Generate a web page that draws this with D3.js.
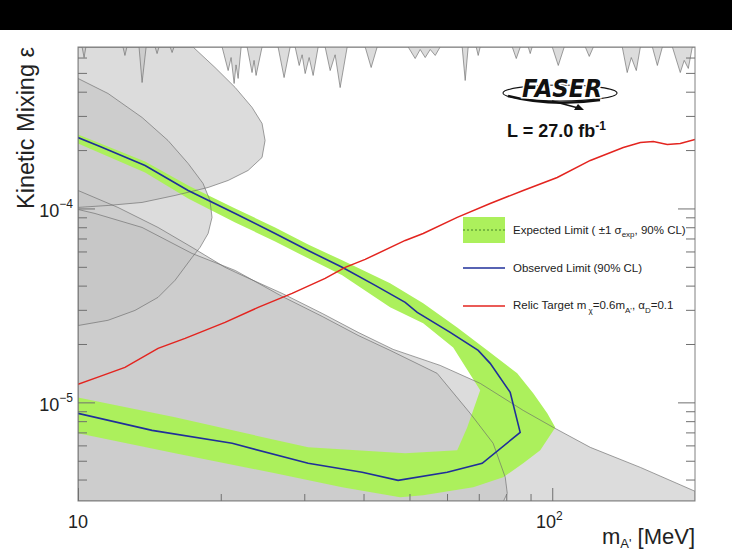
<!DOCTYPE html>
<html>
<head>
<meta charset="utf-8">
<script src="https://cdn.jsdelivr.net/npm/d3@7"></script>
<style>
  body { margin: 0; background: #fff; }
  svg { display: block; font-family: "Liberation Sans", Arial, sans-serif; }
</style>
</head>
<body>
<svg id="chart" width="732" height="552"></svg>
<script>
// axis ranges
const massRange = [10, 200];
const epsRange = [3.1e-6, 6.8e-4];

// tick values
const xMajorTicks = [10, 100];
const xMajorExp = ["", "2"];
const xMinorTicks = [20, 30, 40, 50, 60, 70, 80, 90];
const yMajorTicks = [1e-5, 1e-4];
const yMajorExp = ["\u22125", "\u22124"];
const yMinorTicks = [4e-6, 5e-6, 6e-6, 7e-6, 8e-6, 9e-6, 2e-5, 3e-5, 4e-5, 5e-5, 6e-5, 7e-5, 8e-5, 9e-5, 2e-4, 3e-4, 4e-4, 5e-4, 6e-4];

// existing constraints (grey), edges
const spikeMass = [10, 10.2, 10.3, 10.39, 12.44, 12.56, 12.68, 13.45, 13.65, 13.92, 14.54, 14.68, 14.82, 15.64, 15.79, 15.94,
  20.13, 20.73, 21.03, 21.34, 21.54, 21.76, 22.08, 22.73, 23.28, 23.51, 23.74, 24.44, 26.42, 27.2, 28.01,
  28.7, 29.27, 29.69, 30.13, 30.72, 31.32, 32.09, 33.2, 34.02, 34.85, 35.71, 36.95, 40.32, 41.51, 42.74,
  49.69, 51.4, 52.67, 53.97, 55.3, 56.66, 58.03, 64.58, 65.53, 66.49, 69.13, 69.8, 70.48, 82.35, 83.98, 85.63,
  89.0, 89.86, 90.7, 100, 102.97, 106, 117.4, 119.7, 122.1, 140.5, 143.9, 146.8, 150.4, 153.4,
  162.6, 166.6, 170.7, 179.2, 186.2, 189.8, 193.6, 197.4, 200];
const spikeEps = [68e-5, 68e-5, 60e-5, 68e-5, 68e-5, 61.5e-5, 68e-5, 68e-5, 44.6e-5, 68e-5, 68e-5, 62.9e-5, 68e-5, 68e-5, 63.7e-5, 68e-5,
  68e-5, 51.4e-5, 60e-5, 44.1e-5, 55e-5, 46.8e-5, 68e-5, 68e-5, 50.2e-5, 58e-5, 48.5e-5, 68e-5, 68e-5, 47.3e-5, 68e-5,
  68e-5, 54.6e-5, 62e-5, 49.6e-5, 60e-5, 48.5e-5, 68e-5, 68e-5, 51.4e-5, 62e-5, 42.0e-5, 68e-5, 68e-5, 53.3e-5, 68e-5,
  68e-5, 59.3e-5, 66e-5, 60e-5, 66e-5, 61.5e-5, 68e-5, 68e-5, 45.7e-5, 68e-5, 68e-5, 61.5e-5, 68e-5, 68e-5, 59.3e-5, 68e-5,
  68e-5, 62.9e-5, 68e-5, 68e-5, 54.6e-5, 68e-5, 68e-5, 60.8e-5, 68e-5, 68e-5, 50.2e-5, 60e-5, 51.4e-5, 68e-5,
  68e-5, 54.6e-5, 68e-5, 68e-5, 50.2e-5, 58e-5, 52.7e-5, 68e-5, 68e-5];

const lobeAMass = [10, 17.48, 19.45, 21.45, 23.28, 24.44, 24.8, 24.44, 22.84, 20.73, 18.81, 16.02, 13.65, 11.57, 10];
const lobeAEps = [68e-5, 68e-5, 53.3e-5, 42.05e-5, 33.2e-5, 27.43e-5, 22.41e-5, 18.32e-5, 15.7e-5, 13.94e-5, 12.83e-5, 11.67e-5, 10.74e-5, 10.36e-5, 10.12e-5];

const lobeBMass = [10, 11.57, 13.65, 15.48, 17.07, 18.35, 18.98, 19.17, 18.81, 18.09, 17.4, 16.02, 14.75, 13.19, 11.57, 10];
const lobeBEps = [46.8e-5, 39.15e-5, 29.45e-5, 22.41e-5, 17.06e-5, 13.46e-5, 11.0e-5, 8.99e-5, 7.43e-5, 6.3e-5, 5.59e-5, 4.26e-5, 3.48e-5, 2.98e-5, 2.65e-5, 2.49e-5];

const bandDMass = [10, 12.14, 14.75, 17.4, 20.42, 22.18, 26.94, 32.72, 38.96, 46.19, 58.03, 70.48, 86.85, 100.5, 120.3, 153.4, 200];
const bandDEps = [12.38e-5, 10.12e-5, 7.98e-5, 6.3e-5, 4.97e-5, 4.52e-5, 3.647e-5, 2.876e-5, 2.296e-5, 1.876e-5, 1.551e-5, 1.253e-5, 0.909e-5, 0.743e-5, 0.586e-5, 0.462e-5, 0.348e-5];

const lobeCMass = [10, 10.86, 13.65, 17.4, 21.45, 26.94, 32.72, 38.96, 45.51, 57.19, 67.14, 75.06, 79.6, 80.38, 78.44];
const lobeCEps = [9.88e-5, 9.42e-5, 7.98e-5, 5.86e-5, 4.79e-5, 3.52e-5, 2.776e-5, 2.215e-5, 1.854e-5, 1.411e-5, 0.878e-5, 0.615e-5, 0.411e-5, 0.34e-5, 0.30e-5];

// expected limit band (+-1 sigma), outer edge then inner edge
const expMass = [10, 13.85, 17.07, 21.45, 26.04, 30.57, 36.06, 45.51, 53.44, 63.04, 72.92, 84.35, 91.18, 97.61, 101.5,
  94.34, 86.85, 78.83, 68.13, 53.44, 47.78, 36.06, 26.04, 16.02, 10,
  10, 16.02, 30.57, 48.97, 63.04, 66.16, 70.48, 61.82, 53.44, 45.51, 36.06, 30.57, 26.04, 21.45, 17.07, 13.85, 10];
const expEps = [24.06e-5, 17.47e-5, 13.14e-5, 10.0e-5, 7.98e-5, 6.52e-5, 5.4e-5, 4.11e-5, 3.24e-5, 2.436e-5, 1.854e-5, 1.411e-5, 1.113e-5, 0.878e-5, 0.743e-5,
  0.566e-5, 0.485e-5, 0.411e-5, 0.365e-5, 0.332e-5, 0.324e-5, 0.365e-5, 0.431e-5, 0.546e-5, 0.692e-5,
  1.061e-5, 0.837e-5, 0.586e-5, 0.546e-5, 0.566e-5, 0.743e-5, 1.153e-5, 1.921e-5, 2.555e-5, 3.09e-5, 4.52e-5, 5.53e-5, 6.76e-5, 8.47e-5, 11.26e-5, 15.33e-5, 21.63e-5];

// observed limit
const obsMass = [10, 11.13, 13.85, 17.07, 21.45, 26.04, 30.57, 36.06, 42.33, 48.97, 51.92, 60.93, 69.8, 73.98, 81.53, 85.58,
  71.17, 60.05, 47.32, 39.74, 30.57, 21.14, 14.33, 10];
const obsEps = [23.2e-5, 20.87e-5, 16.66e-5, 12.38e-5, 9.42e-5, 7.43e-5, 6.07e-5, 4.97e-5, 4.01e-5, 3.28e-5, 2.91e-5, 2.296e-5, 1.854e-5, 1.589e-5, 1.126e-5, 0.70e-5,
  0.485e-5, 0.436e-5, 0.396e-5, 0.436e-5, 0.485e-5, 0.615e-5, 0.717e-5, 0.878e-5];

// relic target
const relicMass = [10, 11.13, 12.56, 14.75, 16.82, 20.42, 23.98, 28.28, 33.2, 36.59, 40.32, 48.97, 53.44, 63.04, 73.98, 86.85, 102.45, 120.3, 141.2, 153.4, 163.4, 174.8, 186.2, 200];
const relicEps = [1.238e-5, 1.361e-5, 1.515e-5, 1.898e-5, 2.138e-5, 2.585e-5, 3.09e-5, 3.647e-5, 4.357e-5, 4.97e-5, 5.46e-5, 6.84e-5, 7.43e-5, 8.99e-5, 10.61e-5, 12.38e-5, 14.45e-5, 17.68e-5, 20.63e-5, 21.89e-5, 22.15e-5, 21.38e-5, 21.63e-5, 22.69e-5];

const svg = d3.select("#chart");
const W = 732, H = 552;
const pL = 78, pR = 695, pT = 47, pB = 501;

const x = d3.scaleLog().domain(massRange).range([pL, pR]);
const y = d3.scaleLog().domain(epsRange).range([pB, pT]);

// black strip on top
svg.append("rect").attr("x", 0).attr("y", 0).attr("width", W).attr("height", 30).attr("fill", "#000");

svg.append("defs").append("clipPath").attr("id", "plotclip")
  .append("rect").attr("x", pL).attr("y", pT).attr("width", pR - pL).attr("height", pB - pT);

const plot = svg.append("g").attr("clip-path", "url(#plotclip)");
const line = d3.line().x(d => x(d[0])).y(d => y(d[1]));
const pts = (ms, es) => ms.map((m, i) => [m, es[i]]);

const regions = [
  pts(bandDMass, bandDEps).concat([[massRange[1], epsRange[0]], [massRange[0], epsRange[0]]]),
  pts(lobeCMass, lobeCEps).concat([[massRange[0], epsRange[0]]]),
  pts(lobeBMass, lobeBEps),
  pts(lobeAMass, lobeAEps),
  pts(spikeMass, spikeEps)
];

// grey fills
plot.selectAll("path.excl").data(regions).enter().append("path")
  .attr("class", "excl")
  .attr("d", d => line(d) + "Z")
  .attr("fill", "#c2c2c2")
  .attr("fill-opacity", 0.58);

// expected band
plot.append("path")
  .attr("d", line(pts(expMass, expEps)) + "Z")
  .attr("fill", "#acf05c");

// grey outlines
plot.selectAll("path.exclLine").data(regions).enter().append("path")
  .attr("class", "exclLine")
  .attr("d", d => line(d) + "Z")
  .attr("fill", "none")
  .attr("stroke", "#6a6a6a")
  .attr("stroke-opacity", 0.8)
  .attr("stroke-width", 0.8);

// observed
plot.append("path")
  .attr("d", line(pts(obsMass, obsEps)))
  .attr("fill", "none")
  .attr("stroke", "#1f2f9a")
  .attr("stroke-width", 1.6);

// relic
plot.append("path")
  .attr("d", line(pts(relicMass, relicEps)))
  .attr("fill", "none")
  .attr("stroke", "#e3241f")
  .attr("stroke-width", 1.5);

// frame
svg.append("rect")
  .attr("x", pL).attr("y", pT).attr("width", pR - pL).attr("height", pB - pT)
  .attr("fill", "none").attr("stroke", "#808080").attr("stroke-width", 1);

// ticks (inside)
function ticks(axis, transform, vals, size) {
  const g = svg.append("g").attr("transform", transform)
    .call(axis.tickValues(vals).tickSize(size).tickFormat(""));
  g.select(".domain").remove();
  g.selectAll("line").attr("stroke", "#707070");
}
ticks(d3.axisBottom(x), `translate(0,${pB})`, xMinorTicks, -7);
ticks(d3.axisBottom(x), `translate(0,${pB})`, xMajorTicks, -13);
ticks(d3.axisLeft(y), `translate(${pL},0)`, yMinorTicks, -9);
ticks(d3.axisLeft(y), `translate(${pL},0)`, yMajorTicks, -17);
ticks(d3.axisRight(y), `translate(${pR},0)`, yMinorTicks, -9);
ticks(d3.axisRight(y), `translate(${pR},0)`, yMajorTicks, -17);

// tick labels
xMajorTicks.forEach((v, i) => {
  const t = svg.append("text")
    .attr("x", x(v) + (xMajorExp[i] ? -3 : 0)).attr("y", pB + 27)
    .attr("text-anchor", "middle").attr("font-size", 18).attr("fill", "#222");
  t.append("tspan").text("10");
  if (xMajorExp[i]) t.append("tspan").attr("font-size", 12).attr("dy", -8).text(xMajorExp[i]);
});
yMajorTicks.forEach((v, i) => {
  const t = svg.append("text")
    .attr("x", pL - 5).attr("y", y(v) + 9)
    .attr("text-anchor", "end").attr("font-size", 18).attr("fill", "#222");
  t.append("tspan").text("10");
  t.append("tspan").attr("font-size", 12).attr("dy", -9).text(yMajorExp[i]);
});

// axis titles
svg.append("text")
  .attr("transform", `translate(34,${pT}) rotate(-90)`)
  .attr("text-anchor", "end").attr("font-size", 23.5).attr("fill", "#222")
  .text("Kinetic Mixing \u03b5");

const xt = svg.append("text")
  .attr("x", pR).attr("y", 544)
  .attr("text-anchor", "end").attr("font-size", 22).attr("fill", "#222");
xt.append("tspan").text("m");
xt.append("tspan").attr("font-size", 13).attr("dy", 4).text("A'");
xt.append("tspan").attr("dy", -4).text(" [MeV]");

// FASER logo
const logo = svg.append("g").attr("transform", "translate(560,92)");
logo.append("ellipse").attr("cx", 0).attr("cy", 1).attr("rx", 57).attr("ry", 8)
  .attr("fill", "none").attr("stroke", "#111").attr("stroke-width", 1.1);
logo.append("path").attr("d", "M-52,4 Q-10,15 40,8").attr("fill", "none").attr("stroke", "#111").attr("stroke-width", 2.6);
logo.append("path").attr("d", "M-8,9 L22,17").attr("stroke", "#111").attr("stroke-width", 1.6);
logo.append("path").attr("d", "M24,18 L14,18 L18,12 Z").attr("fill", "#111");
logo.append("text").attr("x", 2).attr("y", 5)
  .attr("text-anchor", "middle").attr("font-family", "DejaVu Sans").attr("font-weight", "bold")
  .attr("font-style", "italic").attr("font-size", 24).attr("textLength", 80).attr("lengthAdjust", "spacingAndGlyphs")
  .attr("fill", "#111").attr("stroke", "#fff").attr("stroke-width", 3).attr("paint-order", "stroke")
  .text("FASER");

const lumi = svg.append("text").attr("x", 507).attr("y", 137)
  .attr("font-size", 18).attr("font-weight", "bold").attr("fill", "#111");
lumi.append("tspan").text("L = 27.0 fb");
lumi.append("tspan").attr("font-size", 12).attr("dy", -7).text("-1");

// legend
const lg = svg.append("g").attr("font-size", 11.5).attr("fill", "#222");
lg.append("rect").attr("x", 463).attr("y", 217).attr("width", 42).attr("height", 26).attr("fill", "#acf05c");
lg.append("line").attr("x1", 463).attr("x2", 505).attr("y1", 230).attr("y2", 230)
  .attr("stroke", "#2a6a1a").attr("stroke-width", 0.8).attr("stroke-dasharray", "2,2");
const t1 = lg.append("text").attr("x", 513).attr("y", 234);
t1.append("tspan").text("Expected Limit ( \u00b11 \u03c3");
t1.append("tspan").attr("font-size", 8).attr("dy", 3).text("exp");
t1.append("tspan").attr("dy", -3).text(", 90% CL)");

lg.append("line").attr("x1", 463).attr("x2", 505).attr("y1", 268).attr("y2", 268)
  .attr("stroke", "#1f2f9a").attr("stroke-width", 1.3);
lg.append("text").attr("x", 513).attr("y", 272).text("Observed Limit (90% CL)");

lg.append("line").attr("x1", 463).attr("x2", 505).attr("y1", 306).attr("y2", 306)
  .attr("stroke", "#e3241f").attr("stroke-width", 1.3);
const t3 = lg.append("text").attr("x", 513).attr("y", 309);
t3.append("tspan").text("Relic Target m");
t3.append("tspan").attr("font-size", 8).attr("dy", 4).text(" \u03c7");
t3.append("tspan").attr("dy", -4).text("=0.6m");
t3.append("tspan").attr("font-size", 8).attr("dy", 4).text("A'");
t3.append("tspan").attr("dy", -4).text(", \u03b1");
t3.append("tspan").attr("font-size", 8).attr("dy", 4).text("D");
t3.append("tspan").attr("dy", -4).text("=0.1");
</script>
</body>
</html>
